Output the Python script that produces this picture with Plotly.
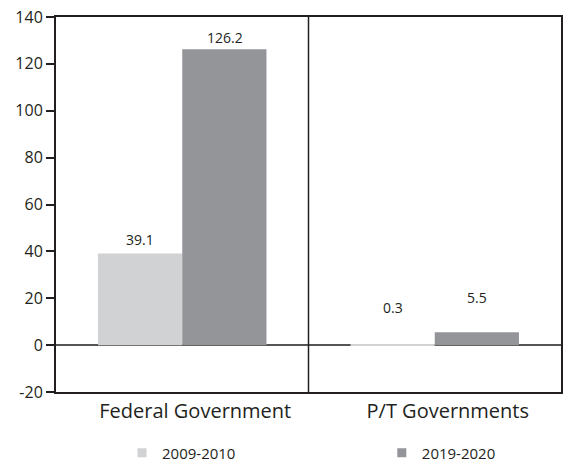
import plotly.graph_objects as go

categories = ["Federal Government", "P/T Governments"]
series_names = ["2009-2010", "2019-2020"]
values_2009 = [39.1, 0.3]
values_2019 = [126.2, 5.5]
label_2009 = ["39.1", "0.3"]
label_2019 = ["126.2", "5.5"]
tick_vals = [-20, 0, 20, 40, 60, 80, 100, 120, 140]
tick_text = ["-20", "0", "20", "40", "60", "80", "100", "120", "140"]

colors = ["#d1d2d4", "#939598"]
label_lift_2009 = [14, 37]
label_lift_2019 = [12, 35]
legend_ids = ["legend", "legend2"]
legend_x = [0.2144, 0.671]

FONT = "Open Sans"
TXT = "#231f20"

fig = go.Figure()
for name, vals, col, lg in zip(series_names, [values_2009, values_2019], colors, legend_ids):
    fig.add_trace(go.Bar(x=categories, y=vals, name=name, marker_color=col,
                         marker_line_width=0, showlegend=False))
    fig.add_trace(go.Scatter(x=[None], y=[None], mode="markers", name=name, legend=lg,
                             marker=dict(symbol="square", size=9, color=col)))

annos = []
bar_px = 84.5
for vals, labs, lifts, sh in [(values_2009, label_2009, label_lift_2009, -bar_px / 2),
                              (values_2019, label_2019, label_lift_2019, bar_px / 2)]:
    for c, v, t, lift in zip(categories, vals, labs, lifts):
        annos.append(dict(x=c, y=v, xref="x", yref="y", text=t, showarrow=False,
                          xshift=sh, yshift=lift, font=dict(size=14, color=TXT, family=FONT)))

leg_common = dict(orientation="h", xanchor="left", xref="container", yref="container",
                  y=0.0237, yanchor="middle",
                  bgcolor="rgba(0,0,0,0)", font=dict(size=15, color=TXT))

fig.update_layout(
    width=569, height=464,
    margin=dict(l=56, r=6, t=17, b=72),
    paper_bgcolor="white", plot_bgcolor="white",
    barmode="group", bargap=0.333, bargroupgap=0,
    font=dict(family=FONT, color=TXT),
    annotations=annos,
    legend=dict(x=legend_x[0], **leg_common),
    legend2=dict(x=legend_x[1], **leg_common),
    shapes=[dict(type="line", xref="x", yref="paper", x0=0.5, x1=0.5, y0=0, y1=1,
                 line=dict(color="#231f20", width=1.5))],
)
fig.update_yaxes(range=[-20, 140], tickvals=tick_vals, ticktext=tick_text,
                 showgrid=False, showline=True, mirror=True,
                 linecolor="#231f20", linewidth=2, ticks="outside", ticklen=8,
                 tickcolor="#231f20", tickwidth=1.5, tickfont=dict(size=16, color=TXT),
                 zeroline=True, zerolinecolor="#555555", zerolinewidth=1.5)
fig.update_xaxes(showgrid=False, showline=True, mirror=True, linecolor="#231f20",
                 linewidth=2, ticks="", ticklabelshift=13,
                 tickfont=dict(size=20, color=TXT))

fig.write_html("out.html")
